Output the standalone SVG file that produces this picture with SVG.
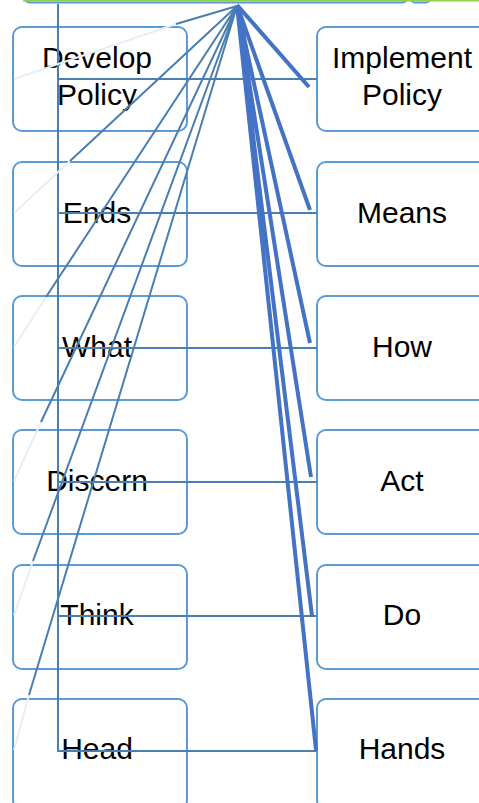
<svg xmlns="http://www.w3.org/2000/svg" width="479" height="803" viewBox="0 0 479 803">
<style>
.box{fill:#ffffff;stroke:#5b9bd5;stroke-width:2}
.lbl{font-family:"Liberation Sans",Arial,sans-serif;font-size:30px;fill:#000000;text-anchor:middle}
.thin{stroke:#4a7eb0;stroke-width:2;fill:none}
.faint{stroke:#e8eef6;stroke-width:2;fill:none}
.thick{stroke:#4472c4;stroke-width:4;fill:none;stroke-linecap:butt}
</style>
<rect width="479" height="803" fill="#ffffff"/>
<g id="top">
<rect x="24" y="-40" width="384" height="42.5" rx="6" fill="#ffffff" stroke="#5b9bd5" stroke-width="2"/>
<rect x="411" y="-40" width="19" height="42.5" rx="4" fill="#ffffff" stroke="#5b9bd5" stroke-width="2"/>
<line x1="23" y1="0.5" x2="479" y2="0.5" stroke="#92d050" stroke-width="2"/>
</g>
<g id="develop-policy"><rect class="box" x="13" y="27" width="174" height="104" rx="9"/><text class="lbl" x="97" y="68">Develop</text><text class="lbl" x="97" y="105">Policy</text></g>
<g id="ends"><rect class="box" x="13" y="162" width="174" height="104" rx="9"/><text class="lbl" x="97" y="223">Ends</text></g>
<g id="what"><rect class="box" x="13" y="296" width="174" height="104" rx="9"/><text class="lbl" x="97" y="357">What</text></g>
<g id="discern"><rect class="box" x="13" y="430" width="174" height="104" rx="9"/><text class="lbl" x="97" y="491">Discern</text></g>
<g id="think"><rect class="box" x="13" y="565" width="174" height="104" rx="9"/><text class="lbl" x="97" y="625">Think</text></g>
<g id="head"><rect class="box" x="13" y="699" width="174" height="110" rx="9"/><text class="lbl" x="97" y="759">Head</text></g>
<g id="implement-policy"><rect class="box" x="317" y="27" width="200" height="104" rx="9"/><text class="lbl" x="402" y="68">Implement</text><text class="lbl" x="402" y="105">Policy</text></g>
<g id="means"><rect class="box" x="317" y="162" width="200" height="104" rx="9"/><text class="lbl" x="402" y="223">Means</text></g>
<g id="how"><rect class="box" x="317" y="296" width="200" height="104" rx="9"/><text class="lbl" x="402" y="357">How</text></g>
<g id="act"><rect class="box" x="317" y="430" width="200" height="104" rx="9"/><text class="lbl" x="402" y="491">Act</text></g>
<g id="do"><rect class="box" x="317" y="565" width="200" height="104" rx="9"/><text class="lbl" x="402" y="625">Do</text></g>
<g id="hands"><rect class="box" x="317" y="699" width="200" height="110" rx="9"/><text class="lbl" x="402" y="759">Hands</text></g>
<g id="connectors">
<path class="thin" d="M58 4 V751 H317 M58 79 H317 M58 213 H317 M58 348 H317 M58 482 H317 M58 616 H317"/>
<path class="faint" d="M176 24 L14 79 M70 161 L14 213 M46 297 L14 347 M41 422 L14 481 M33 561 L14 615 M29 695 L14 750"/>
<path class="thin" d="M237 6 L176 24 M237 6 L70 161 M237 6 L46 297 M237 6 L41 422 M237 6 L33 561 M237 6 L29 695"/>
<path class="thick" d="M237 5 L309 87 M237 5 L310 210 M237 5 L310 343 M237 5 L311 477 M237 5 L312 616 M237 5 L316 750"/>
</g>
</svg>
